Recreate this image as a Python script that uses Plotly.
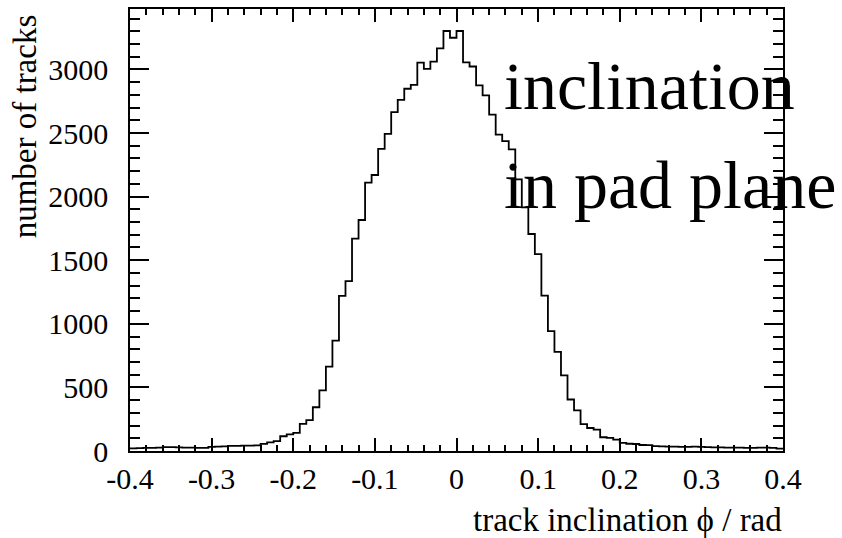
import numpy as np
import plotly.graph_objects as go

# histogram definition: 100 bins from -0.4 to 0.4
x_min, x_max, n_bins = -0.4, 0.4, 100

counts = [
    20, 22, 25, 24, 26, 30, 31, 29, 27, 26,
    25, 24, 33, 34, 36, 40, 41, 42, 43, 45,
    56, 68, 78, 116, 130, 142, 213, 242, 344, 476,
    664, 867, 1219, 1336, 1670, 1816, 2110, 2170, 2376, 2493,
    2665, 2760, 2848, 2879, 3054, 3004, 3062, 3166, 3302, 3249,
    3302, 3056, 3023, 2874, 2796, 2645, 2488, 2436, 2371, 2136,
    1915, 1706, 1548, 1222, 942, 780, 594, 405, 319, 212,
    181, 168, 108, 103, 90, 64, 57, 55, 47, 46,
    38, 36, 35, 34, 33, 32, 35, 33, 30, 28,
    29, 27, 26, 27, 25, 24, 26, 27, 25, 18,
]

x_ticks = [-0.4, -0.3, -0.2, -0.1, 0, 0.1, 0.2, 0.3, 0.4]
x_tick_text = ["-0.4", "-0.3", "-0.2", "-0.1", "0", "0.1", "0.2", "0.3", "0.4"]
y_ticks = [0, 500, 1000, 1500, 2000, 2500, 3000]
y_tick_text = ["0", "500", "1000", "1500", "2000", "2500", "3000"]

x_title = "track inclination ϕ / rad"
y_title = "number of tracks"
label_lines = ["inclination", "in pad plane"]

edges = np.linspace(x_min, x_max, n_bins + 1)
y_step = list(counts) + [counts[-1]]

FONT = "Liberation Serif"

fig = go.Figure()
fig.add_trace(go.Scatter(
    x=edges, y=y_step, mode="lines", line_shape="hv",
    line=dict(color="black", width=1.8), showlegend=False, hoverinfo="skip",
))

W, H = 842, 538
L, R, T, B = 130, 59, 7, 86.5
pw, ph = W - L - R, H - T - B

def px_x(px):
    return (px - L) / pw

def px_y(py):
    return (H - B - py) / ph

fig.update_layout(
    width=W, height=H,
    margin=dict(l=L, r=R, t=T, b=B, pad=0),
    paper_bgcolor="white", plot_bgcolor="white",
    font=dict(family=FONT, color="black", size=30),
    xaxis=dict(
        range=[x_min, x_max], tickvals=x_ticks, ticktext=x_tick_text,
        ticks="inside", ticklen=13, tickwidth=1.5, tickcolor="black",
        showline=True, linecolor="black", linewidth=1.5, mirror="ticks",
        showgrid=False, zeroline=False,
        tickfont=dict(family=FONT, size=30, color="black"),
        minor=dict(dtick=0.02, tick0=0, ticks="inside", ticklen=6.5,
                   tickwidth=1.5, tickcolor="black", showgrid=False),
    ),
    yaxis=dict(
        range=[0, 3475], tickvals=y_ticks, ticktext=y_tick_text,
        ticks="inside", ticklen=19, tickwidth=1.5, tickcolor="black",
        showline=True, linecolor="black", linewidth=1.5, mirror="ticks",
        showgrid=False, zeroline=False, ticklabelstandoff=14,
        tickfont=dict(family=FONT, size=30, color="black"),
        minor=dict(dtick=100, tick0=0, ticks="inside", ticklen=10,
                   tickwidth=1.5, tickcolor="black", showgrid=False),
    ),
)

annotations = [
    dict(text=x_title, x=px_x(784), y=px_y(521), xref="paper", yref="paper",
         xanchor="right", yanchor="middle", showarrow=False,
         font=dict(family=FONT, size=33, color="black")),
    dict(text=y_title, x=px_x(25), y=px_y(125), xref="paper", yref="paper",
         xanchor="center", yanchor="middle", textangle=-90, showarrow=False,
         font=dict(family=FONT, size=33, color="black")),
    dict(text=label_lines[0], x=px_x(502), y=px_y(84), xref="paper", yref="paper",
         xanchor="left", yanchor="middle", showarrow=False,
         font=dict(family=FONT, size=68, color="black")),
    dict(text=label_lines[1], x=px_x(502), y=px_y(184), xref="paper", yref="paper",
         xanchor="left", yanchor="middle", showarrow=False,
         font=dict(family=FONT, size=68, color="black")),
]
fig.update_layout(annotations=annotations)

fig.write_html("out.html")
